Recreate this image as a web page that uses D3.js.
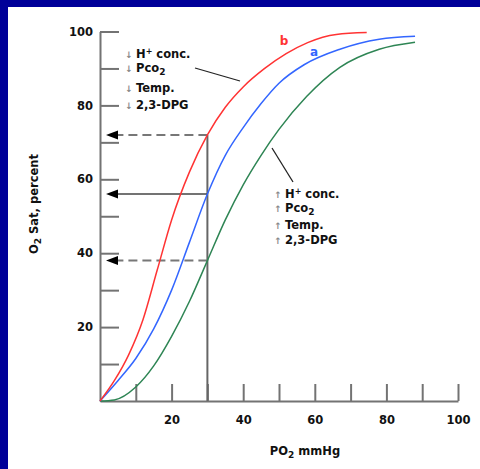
<!DOCTYPE html>
<html>
<head>
<meta charset="utf-8">
<script src="https://cdn.jsdelivr.net/npm/d3@7"></script>
<style>
  body { margin: 0; }
  text { font-family: "DejaVu Sans", Verdana, sans-serif; font-weight: bold; }
</style>
</head>
<body>
<div id="chart"></div>
<script>
// PO2 (mmHg) / O2 saturation (%)
const curveB = [[0,0],[4,5.5],[8,12.5],[12,22],[16,35.5],[20,49],[25,62],[30,72],[35,79.5],[40,85],[46,90],[52,94],[58,97],[66,99.2],[74.5,99.7]];
const curveA = [[0,0],[5,5.5],[10,11.5],[15,19.5],[20,30],[25,43],[30,56],[35,66.5],[40,74],[45,80.5],[50,86],[57,91],[67,95.2],[78,97.9],[88,98.7]];
const curveC = [[0,0],[4,0.3],[10,3.8],[15,9.5],[20,17.5],[25,27],[30,38],[35,49],[40,58.5],[45,66.5],[50,73.5],[57.7,82.4],[67,90.3],[78,95.2],[88,97.1]];
const readPO2 = 30;
const readouts = [72, 56, 38];
const xTicks = [10,20,30,40,50,60,70,80,90,100];
const yTicks = [10,20,30,40,50,60,70,80,90,100];

const width = 480, height = 469;
const svg = d3.select("#chart").append("svg")
    .attr("width", width)
    .attr("height", height);

svg.append("rect").attr("width", width).attr("height", height).attr("fill", "#000099");
svg.append("rect").attr("x", 8).attr("y", 7).attr("width", width - 8).attr("height", height - 7).attr("fill", "#fff");

const x = d3.scaleLinear().domain([0, 100]).range([100, 458]);
const y = d3.scaleLinear().domain([0, 100]).range([401, 31.5]);

const axisColor = "#737373";

// x axis
const gx = svg.append("g")
    .attr("transform", `translate(0,${y(0)})`)
    .call(d3.axisBottom(x).tickValues(xTicks).tickSize(-17).tickSizeOuter(0).tickPadding(15)
        .tickFormat(d => d % 20 === 0 ? d : ""));
// y axis
const gy = svg.append("g")
    .attr("transform", `translate(${x(0)},0)`)
    .call(d3.axisLeft(y).tickValues(yTicks).tickSize(-19).tickSizeOuter(0).tickPadding(7)
        .tickFormat(d => d % 20 === 0 ? d : ""));

[gx, gy].forEach(g => {
    g.select(".domain").attr("stroke", axisColor).attr("stroke-width", 2);
    g.selectAll(".tick line").attr("stroke", axisColor).attr("stroke-width", 2);
    g.selectAll(".tick text").attr("fill", "#111").attr("font-size", 11.5)
        .attr("font-family", "DejaVu Sans").attr("font-weight", "bold");
});

// readout lines
svg.append("line")
    .attr("x1", x(readPO2)).attr("x2", x(readPO2))
    .attr("y1", y(0)).attr("y2", y(readouts[0]))
    .attr("stroke", "#666").attr("stroke-width", 2);

readouts.forEach((v, i) => {
    const dashed = i !== 1;
    svg.append("line")
        .attr("x1", x(readPO2)).attr("x2", x(0) + 16)
        .attr("y1", y(v)).attr("y2", y(v))
        .attr("stroke", dashed ? "#777" : "#444")
        .attr("stroke-width", dashed ? 2 : 1.5)
        .attr("stroke-dasharray", dashed ? "9,5" : null);
    const tip = x(0) + 6, yy = y(v);
    svg.append("path")
        .attr("d", `M${tip},${yy}L${tip + 12},${yy - 4.5}L${tip + 12},${yy + 4.5}Z`)
        .attr("fill", "#000");
});

// curves
const line = d3.line().x(d => x(d[0])).y(d => y(d[1])).curve(d3.curveMonotoneX);
[[curveC, "#2e8554"], [curveA, "#3366ff"], [curveB, "#ff3333"]].forEach(([data, color]) => {
    svg.append("path")
        .datum(data)
        .attr("d", line)
        .attr("fill", "none")
        .attr("stroke", color)
        .attr("stroke-width", 1.5);
});

svg.append("text").attr("x", 284).attr("y", 45).attr("text-anchor", "middle")
    .attr("font-size", 12).attr("fill", "#ff3333").text("b");
svg.append("text").attr("x", 314).attr("y", 56).attr("text-anchor", "middle")
    .attr("font-size", 12).attr("fill", "#3366ff").text("a");

// annotations
function factorList(x0, ys, arrow) {
    const labels = [
        t => { t.append("tspan").text("H"); t.append("tspan").attr("dy", -4).attr("font-size", 8).text("+"); t.append("tspan").attr("dy", 4).text(" conc."); },
        t => { t.append("tspan").text("Pco"); t.append("tspan").attr("dy", 3).attr("font-size", 9).text("2"); },
        t => { t.text("Temp."); },
        t => { t.text("2,3-DPG"); }
    ];
    labels.forEach((fn, i) => {
        svg.append("text").attr("x", x0).attr("y", ys[i] + 4)
            .attr("font-size", 9).attr("font-weight", "normal").attr("fill", "#888")
            .attr("text-anchor", "middle").text(arrow);
        const t = svg.append("text").attr("x", x0 + 7).attr("y", ys[i] + 4)
            .attr("font-size", 11.5).attr("fill", "#111");
        fn(t);
    });
}
factorList(129, [54, 68, 88, 105], "↓");
factorList(278, [194, 208, 225, 240], "↑");

svg.append("line").attr("x1", 195).attr("y1", 68).attr("x2", 240).attr("y2", 81)
    .attr("stroke", "#222").attr("stroke-width", 1.3);
svg.append("line").attr("x1", 272).attr("y1", 148).attr("x2", 293).attr("y2", 182)
    .attr("stroke", "#222").attr("stroke-width", 1.3);

// axis titles
const xt = svg.append("text").attr("x", 305).attr("y", 455).attr("text-anchor", "middle")
    .attr("font-size", 11.5).attr("fill", "#111");
xt.append("tspan").text("PO");
xt.append("tspan").attr("dy", 3).attr("font-size", 9).text("2");
xt.append("tspan").attr("dy", -3).text(" mmHg");

const yt = svg.append("text").attr("transform", "translate(38,204) rotate(-90)")
    .attr("text-anchor", "middle").attr("font-size", 11.5).attr("fill", "#111");
yt.append("tspan").text("O");
yt.append("tspan").attr("dy", 3).attr("font-size", 9).text("2");
yt.append("tspan").attr("dy", -3).text(" Sat, percent");
</script>
</body>
</html>
